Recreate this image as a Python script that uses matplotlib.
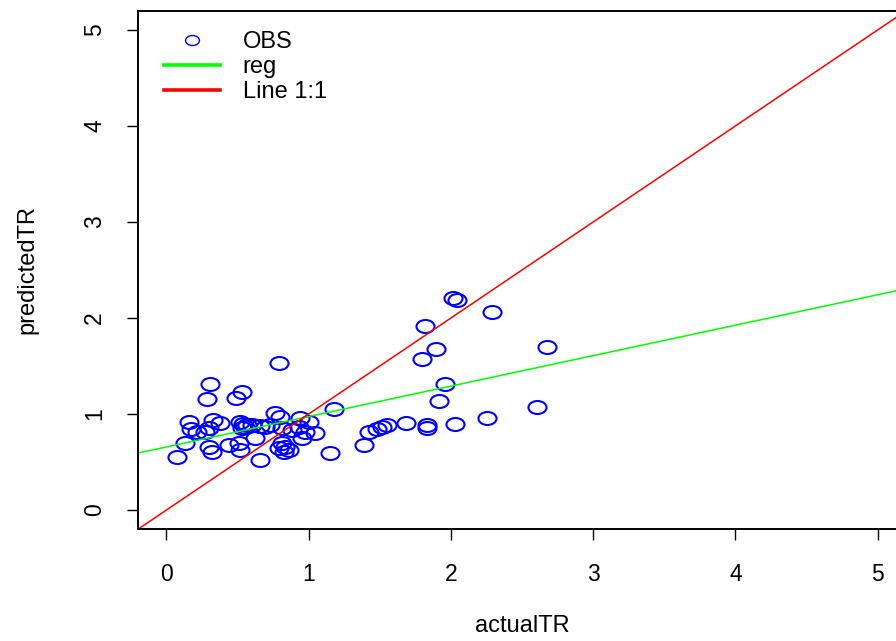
import matplotlib
matplotlib.use("Agg")
import matplotlib.pyplot as plt
import matplotlib.transforms as mtransforms
from matplotlib.path import Path
from matplotlib.lines import Line2D

plt.rcParams['font.family'] = ['Liberation Sans', 'DejaVu Sans']

actual = [0.075, 0.133, 0.162, 0.176, 0.216, 0.286, 0.304, 0.297, 0.321, 0.325,
          0.297, 0.274, 0.379, 0.438, 0.489, 0.532, 0.508, 0.520, 0.520, 0.541,
          0.555, 0.534, 0.569, 0.602, 0.625, 0.660, 0.660, 0.695, 0.730, 0.765,
          0.801, 0.791, 0.813, 0.883, 0.929, 0.936, 0.976, 0.999, 1.046, 0.953,
          0.813, 0.836, 0.789, 0.824, 0.859, 1.152, 1.178, 1.388, 1.423, 1.480,
          1.515, 1.550, 1.685, 1.835, 1.835, 1.796, 1.821, 1.894, 1.919, 1.959,
          2.018, 2.046, 2.029, 2.254, 2.291, 2.603, 2.676]
predicted = [0.555, 0.695, 0.920, 0.844, 0.816, 1.156, 1.309, 0.659, 0.607, 0.938,
             0.851, 0.816, 0.903, 0.677, 1.170, 1.226, 0.695, 0.625, 0.917, 0.896,
             0.865, 0.854, 0.885, 0.885, 0.747, 0.521, 0.878, 0.868, 0.885, 1.007,
             0.972, 1.528, 0.851, 0.833, 0.868, 0.955, 0.816, 0.917, 0.799, 0.747,
             0.695, 0.659, 0.643, 0.607, 0.625, 0.591, 1.052, 0.680, 0.809, 0.847,
             0.865, 0.885, 0.909, 0.882, 0.854, 1.573, 1.917, 1.674, 1.139, 1.313,
             2.205, 2.188, 0.899, 0.955, 2.059, 1.070, 1.701]

reg_intercept = 0.657
reg_slope = 0.317

x_ticks = [0, 1, 2, 3, 4, 5]
y_ticks = [0, 1, 2, 3, 4, 5]
legend_labels = ["OBS", "reg", "Line 1:1"]

W, H = 896, 641
fig = plt.figure(figsize=(W / 100, H / 100), dpi=100)
left, right, top, bottom = 138, 906, 10.8, 529.2
ax = fig.add_axes([left / W, 1 - bottom / H, (right - left) / W, (bottom - top) / H])
ax.set_xlim(-0.2, 5.2)
ax.set_ylim(-0.2, 5.2)

ell = Path.unit_circle().transformed(mtransforms.Affine2D().scale(1.0, 0.72))

ax.plot(actual, predicted, linestyle='none', marker=ell, markersize=13,
        markerfacecolor='none', markeredgecolor='#0000ff', markeredgewidth=1.5)
ax.axline((0, reg_intercept), slope=reg_slope, color='#00ff00', lw=1.1)
ax.axline((0, 0), slope=1, color='#ff0000', lw=1.1)

ax.set_xticks(x_ticks)
ax.set_yticks(y_ticks)
ax.set_xticklabels([str(t) for t in x_ticks])
ax.set_yticklabels([str(t) for t in y_ticks], rotation=90, va='center')
ax.tick_params(axis='both', direction='out', length=8, width=1.0, labelsize=16.5,
               colors='black')
ax.tick_params(axis='x', pad=16)
ax.tick_params(axis='y', pad=15)
for s in ax.spines.values():
    s.set_linewidth(1.4)
    s.set_color('black')

ax.set_xlabel("actualTR", fontsize=17, labelpad=21)
ax.set_ylabel("predictedTR", fontsize=17, labelpad=32)

handles = [
    Line2D([], [], linestyle='none', marker=ell, markersize=10,
           markerfacecolor='none', markeredgecolor='#0000ff', markeredgewidth=1.0),
    Line2D([], [], color='#00ff00', lw=2.6),
    Line2D([], [], color='#ff0000', lw=2.6),
]
ax.legend(handles, legend_labels, loc='upper left', frameon=False, fontsize=17,
          handlelength=2.4, handletextpad=0.95, labelspacing=0.12,
          bbox_to_anchor=(0.012, 0.992), borderaxespad=0.3)

fig.savefig("out.png", dpi=100)
